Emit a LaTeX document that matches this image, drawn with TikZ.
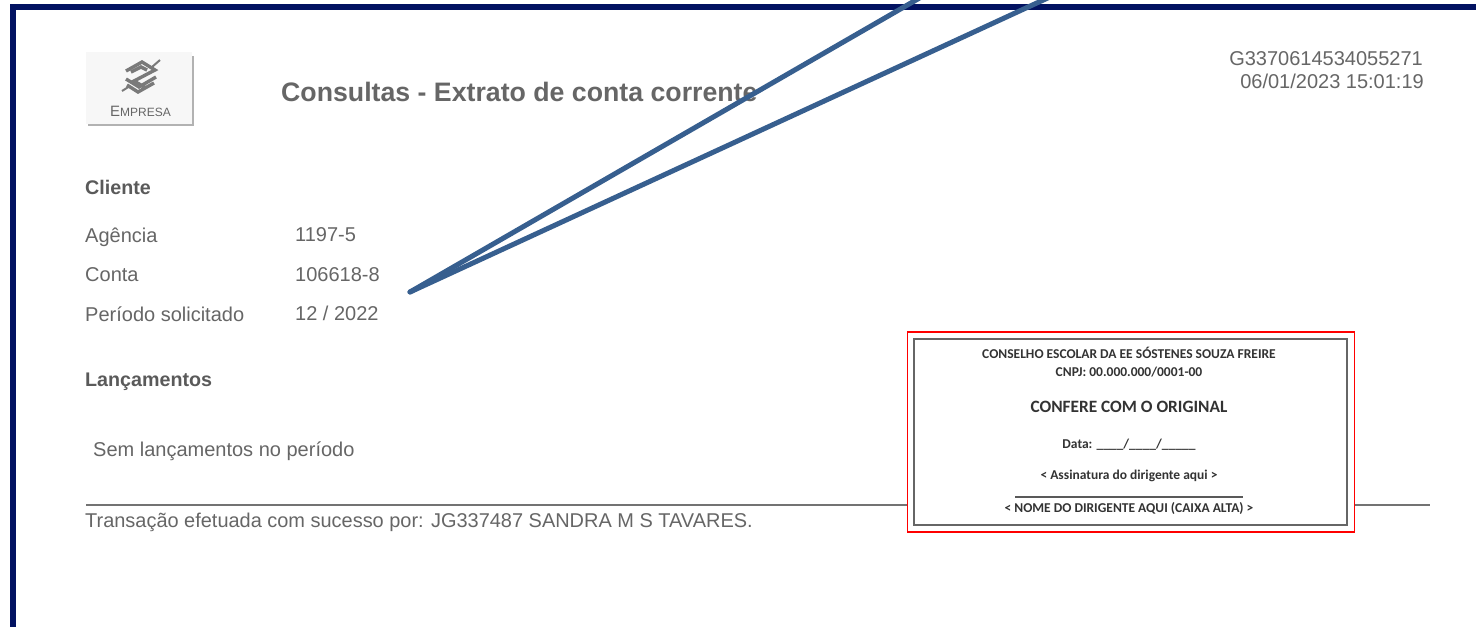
\documentclass[tikz,border=0pt]{standalone}
\usepackage{fontspec}
\setmainfont{Liberation Sans}
\newfontfamily\boxfont{Carlito}
\usetikzlibrary{calc}
\definecolor{navyb}{HTML}{021261}
\definecolor{steel}{HTML}{375F8F}
\definecolor{txt}{HTML}{666666}
\definecolor{txtb}{HTML}{5A5A5A}
\definecolor{logog}{HTML}{7A7A7A}
\tikzset{
  x=1pt,y=-1pt,
  doc/.style={anchor=base west,inner sep=0pt,text=txt,font=\fontsize{20}{20}\selectfont},
  docb/.style={anchor=base west,inner sep=0pt,text=txtb,font=\fontsize{19.7}{20}\selectfont\bfseries},
  docr/.style={anchor=base east,inner sep=0pt,text=txt,font=\fontsize{20}{20}\selectfont},
  stamp/.style={anchor=base,inner sep=0pt,text=black!80,font=\boxfont\bfseries\fontsize{13.5}{14}\selectfont},
  pointer/.style={draw=steel,line width=5pt,line cap=round},
  rule/.style={draw=black!55,line width=1.2pt}
}
\begin{document}
\begin{tikzpicture}
\useasboundingbox (0,0) rectangle (1476,627);
\fill[white] (0,0) rectangle (1476,627);
% frame
\fill[navyb] (10,4) rectangle (1476,10);
\fill[navyb] (10,4) rectangle (16,627);
% logo tile
\fill[black!30] (88,56) rectangle (194,126);
\fill[black!3] (86,52) rectangle (191.5,123.5);
\begin{scope}[logog,line width=3.4pt,line join=miter]
  \draw (126,71) -- (142,62) -- (155,70) -- (134,81) -- (146,88);
  \draw (126,79) -- (139,87) -- (156,77);
  \draw (127,85) -- (138,92) -- (154,83);
  \draw (131,72) -- (141,67) -- (147,70);
  \draw[line width=2pt] (122,91) -- (130,86);
  \draw[line width=2pt] (152,67) -- (160,60);
\end{scope}
\node[inner sep=0pt,anchor=base,text=txt,font=\fontsize{15}{15}\selectfont] (emp) at (140.5,116) {E\fontsize{12}{12}\selectfont MPRESA};
% header
\node[doc,font=\fontsize{26.7}{27}\selectfont\bfseries] (title) at (281,101) {Consultas - Extrato de conta corrente};
\node[docr] (code) at (1423,65) {G3370614534055271};
\node[docr] (stamp) at (1424,88) {06/01/2023 15:01:19};
% left block
\node[docb] (cliente) at (85,194) {Cliente};
\node[doc] (ag) at (85,242) {Agência};
\node[doc] (agv) at (295,241) {1197-5};
\node[doc] (ct) at (85,281) {Conta};
\node[doc] (ctv) at (295,281) {106618-8};
\node[doc] (per) at (85,321) {Período solicitado};
\node[doc] (perv) at (295,320) {12 / 2022};
\node[docb] (lanc) at (85,386) {Lançamentos};
\node[doc] (sem) at (93,456) {Sem lançamentos no período};
\node[doc,font=\fontsize{19.95}{20}\selectfont] (trans) at (85,527) {Transação efetuada com sucesso por: JG337487 SANDRA M S TAVARES.};
% rule
\coordinate (ruleL) at (86,505);
\coordinate (ruleR) at (1430,505);
\draw[rule] (ruleL) -- (ruleR);
% stamp box
\node[draw=red,fill=white,line width=1.3pt,minimum width=447pt,minimum height=200pt,inner sep=0pt] (outer) at (1131,432) {};
\node[draw=black!60,line width=2pt,minimum width=433pt,minimum height=186pt,inner sep=0pt] (inner) at (1130,432) {};
\node[stamp] (s1) at (1129,358) {CONSELHO ESCOLAR DA EE SÓSTENES SOUZA FREIRE};
\node[stamp] (s2) at (1129,376) {CNPJ: 00.000.000/0001-00};
\node[stamp,font=\boxfont\bfseries\fontsize{17.3}{18}\selectfont] (s3) at (1129,412) {CONFERE COM O ORIGINAL};
\node[stamp] (s4) at (1129,448) {Data: \_\_\_\_/\_\_\_\_/\_\_\_\_\_};
\node[stamp] (s5) at (1129,479) {< Assinatura do dirigente aqui >};
\coordinate (sigL) at (1015,497);
\coordinate (sigR) at (1243,497);
\draw[draw=black!65,line width=1.2pt] (sigL) -- (sigR);
\node[stamp] (s6) at (1129,512) {< NOME DO DIRIGENTE AQUI (CAIXA ALTA) >};
% pointer lines
\coordinate (tip) at (410,292);
\coordinate (topA) at (923,-4);
\coordinate (topB) at (1052,-4);
\draw[pointer] (tip) -- (topA);
\draw[pointer] (tip) -- (topB);
\end{tikzpicture}
\end{document}
